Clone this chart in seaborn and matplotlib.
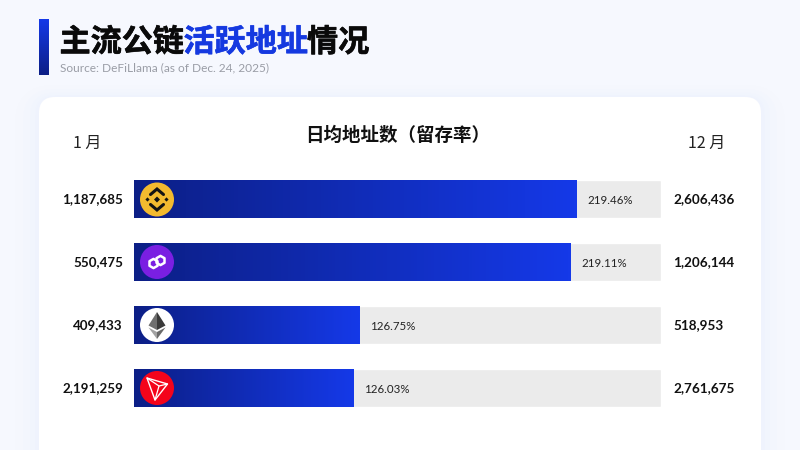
#!/usr/bin/env python3
"""
Daily active addresses on major chains
"""
import numpy as np
import pandas as pd
import seaborn as sns
import matplotlib.pyplot as plt
import matplotlib.patheffects as pe
from matplotlib.patches import Circle, FancyBboxPatch, Polygon
from matplotlib.colors import LinearSegmentedColormap

chains = ["BNB", "Polygon", "Ethereum", "TRON"]
jan_labels = ["1,187,685", "550,475", "409,433", "2,191,259"]
dec_labels = ["2,606,436", "1,206,144", "518,953", "2,761,675"]
retention_labels = ["219.46%", "219.11%", "126.75%", "126.03%"]
bar_share = [0.84, 0.829, 0.427, 0.416]
track_share = [1, 1, 1, 1]

NUM_FONT = ["Lato", "DejaVu Sans"]
CJK_FONT = ["Noto Sans CJK SC", "DejaVu Sans"]
gradient = LinearSegmentedColormap.from_list("bar", ["#0C1F86", "#1539E8"])

sns.set_theme(style="white")
plt.rcParams["font.family"] = CJK_FONT

df = pd.DataFrame({"chain": chains, "share": bar_share, "track": track_share})

fig = plt.figure(figsize=(8, 4.5), dpi=100, facecolor="#F6F8FE")

# page layer in pixel coordinates
page = fig.add_axes([0, 0, 1, 1])
page.axis("off")

for grow, alpha in [(24, 0.10), (16, 0.14), (9, 0.18), (4, 0.25)]:
    page.add_patch(FancyBboxPatch((39 - grow, 97 - grow * 0.5), 722 + 2 * grow, 420,
                                  boxstyle=f"round,pad=0,rounding_size={16 + grow}",
                                  fc="#EDF1FD", ec="none", alpha=alpha))
page.add_patch(FancyBboxPatch((39, 97), 722, 420, boxstyle="round,pad=0,rounding_size=16",
                              fc="white", ec="none"))

# title accent bar
page.imshow(np.linspace(0, 1, 64)[:, None][::-1], cmap=gradient, aspect="auto",
            extent=(39, 49, 75, 19), zorder=2)
page.set_xlim(0, 800)
page.set_ylim(450, 0)

heavy = [pe.withStroke(linewidth=0.45, foreground="#0A0A0A")]
heavy_blue = [pe.withStroke(linewidth=0.45, foreground="#1539E0")]
page.text(59.5, 42.5, "主流公链", fontsize=22.4, fontweight="bold", color="#0A0A0A", va="center",
          path_effects=heavy)
page.text(183.5, 42.5, "活跃地址", fontsize=22.4, fontweight="bold", color="#1539E0", va="center",
          path_effects=heavy_blue)
page.text(307, 42.5, "情况", fontsize=22.4, fontweight="bold", color="#0A0A0A", va="center",
          path_effects=heavy)
page.text(60, 67.5, "Source: DeFiLlama (as of Dec. 24, 2025)", fontsize=8.6, color="#9A9DA6",
          va="center", family=NUM_FONT)
page.text(397.5, 135, "日均地址数（留存率）", fontsize=13.3, fontweight="bold", color="#111111",
          va="center", ha="center")
page.text(87.5, 143, "1 月", fontsize=11.5, color="#222222", va="center", ha="center")
page.text(707, 143, "12 月", fontsize=11.5, color="#222222", va="center", ha="center")

# bars
ax = fig.add_axes([134 / 800, 1 - 419.5 / 450, 527 / 800, 252 / 450])
ax.patch.set_alpha(0)
sns.barplot(data=df, y="chain", x="track", color="#EBEBEB", width=0.61, saturation=1, ax=ax, zorder=1)
track_count = len(ax.patches)
sns.barplot(data=df, y="chain", x="share", color="#1539E8", width=0.61, saturation=1, ax=ax, zorder=2)
ax.axis("off")

for i, bar in enumerate(ax.patches[track_count:]):
    bar.set_visible(False)
    ax.imshow(np.linspace(0, 1, 128)[None, :], cmap=gradient, aspect="auto", zorder=3,
              extent=(0, bar_share[i], i + 0.305, i - 0.295))
    ax.text(bar_share[i] + 0.02, i + 0.02, retention_labels[i], fontsize=8.3, color="#222222",
            va="center", family=NUM_FONT, zorder=5)
ax.set_xlim(0, 1)
ax.set_ylim(3.5, -0.5)

# year-start / year-end labels and coin badges, placed on the bar rows
row_y = [199.5, 262, 325, 388]
for i, y in enumerate(row_y):
    page.text(123, y, jan_labels[i], fontsize=9.6, fontweight="bold", color="#111111",
              ha="right", va="center", family=NUM_FONT)
    page.text(673, y, dec_labels[i], fontsize=9.7, fontweight="bold", color="#111111",
              ha="left", va="center", family=NUM_FONT)

overlay = fig.add_axes([0, 0, 1, 1])
overlay.set_xlim(0, 800)
overlay.set_ylim(450, 0)
overlay.axis("off")
overlay.patch.set_alpha(0)


def badge(y, color):
    overlay.add_patch(Circle((157, y), 17, fc=color, ec="none"))


def diamond(cx, cy, r, color="#141414"):
    overlay.add_patch(Polygon([(cx - r, cy), (cx, cy - r), (cx + r, cy), (cx, cy + r)], fc=color, ec="none"))


# BNB
y = row_y[0]
badge(y, "#F3BA2F")
diamond(157, y, 3)
diamond(147.5, y, 2.1)
diamond(166.5, y, 2.1)
for sign in (-1, 1):
    overlay.plot([157 - 6.5, 157, 157 + 6.5], [y + sign * 5, y + sign * 10.5, y + sign * 5],
                 color="#141414", lw=2.2, solid_joinstyle="miter")

# Polygon
y = row_y[1]
badge(y, "#7A1FE2")
for cx, cy in [(153.5, y + 1.5), (160.5, y - 1.5)]:
    overlay.add_patch(Polygon([(cx - 4, cy - 2.3), (cx, cy - 4.6), (cx + 4, cy - 2.3),
                               (cx + 4, cy + 2.3), (cx, cy + 4.6), (cx - 4, cy + 2.3)],
                              fc="none", ec="white", lw=1.8, joinstyle="round"))

# Ethereum
y = row_y[2]
badge(y, "white")
overlay.add_patch(Polygon([(157, y - 13), (148.5, y + 0.5), (157, y + 5)], fc="#6F6F6F", ec="none"))
overlay.add_patch(Polygon([(157, y - 13), (165.5, y + 0.5), (157, y + 5)], fc="#3A3A3A", ec="none"))
overlay.add_patch(Polygon([(148.5, y + 2.5), (157, y + 14), (157, y + 7)], fc="#A3A3A3", ec="none"))
overlay.add_patch(Polygon([(165.5, y + 2.5), (157, y + 14), (157, y + 7)], fc="#6A6A6A", ec="none"))

# TRON
y = row_y[3]
badge(y, "#F4041B")
tron = [(147, y - 10), (167.5, y - 4), (155, y + 12)]
overlay.add_patch(Polygon(tron, fc="none", ec="white", lw=1, joinstyle="round"))
overlay.plot([147, 159, 167.5], [y - 10, y - 2, y - 4], color="white", lw=0.9)
overlay.plot([159, 155], [y - 2, y + 12], color="white", lw=0.9)

fig.savefig("out.png", dpi=100)
